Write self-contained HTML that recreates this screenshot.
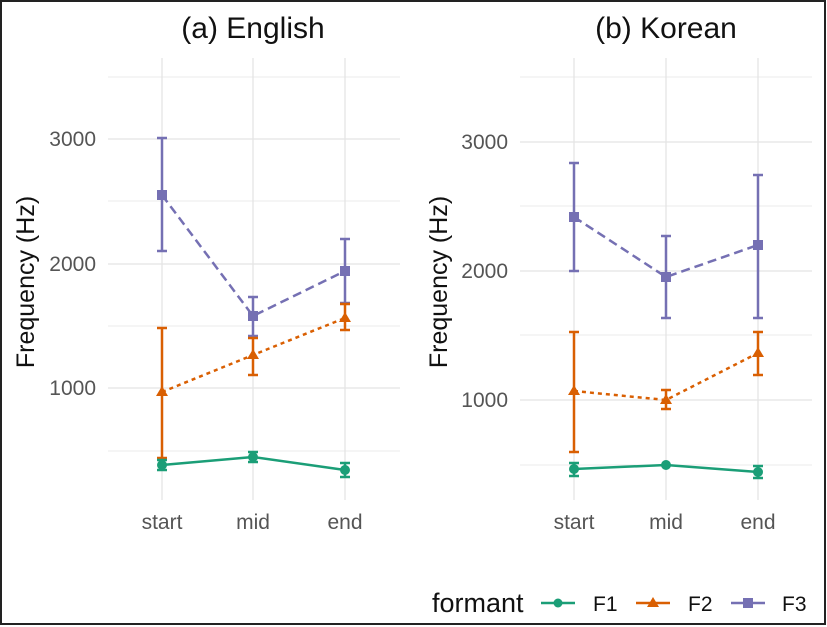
<!DOCTYPE html><html><head><style>body{margin:0;background:#fff}svg{display:block;font-family:"Liberation Sans",sans-serif}</style></head><body>
<svg width="827" height="627" viewBox="0 0 827 627">
<rect x="1" y="1" width="824" height="623" fill="#fff" stroke="#222" stroke-width="2"/>
<g stroke="#ebebeb" stroke-width="1">
<line x1="108" x2="400" y1="77" y2="77"/><line x1="108" x2="400" y1="201" y2="201"/><line x1="108" x2="400" y1="326" y2="326"/><line x1="108" x2="400" y1="451" y2="451"/>
<line x1="520" x2="812" y1="77" y2="77"/><line x1="520" x2="812" y1="206" y2="206"/><line x1="520" x2="812" y1="335" y2="335"/><line x1="520" x2="812" y1="465" y2="465"/>
</g>
<g stroke="#e4e4e4" stroke-width="1.3">
<line x1="108" x2="400" y1="139" y2="139"/><line x1="108" x2="400" y1="264" y2="264"/><line x1="108" x2="400" y1="388" y2="388"/>
<line x1="162" x2="162" y1="58" y2="500"/><line x1="253" x2="253" y1="58" y2="500"/><line x1="345" x2="345" y1="58" y2="500"/>
<line x1="520" x2="812" y1="142" y2="142"/><line x1="520" x2="812" y1="271" y2="271"/><line x1="520" x2="812" y1="400" y2="400"/>
<line x1="574" x2="574" y1="58" y2="500"/><line x1="666" x2="666" y1="58" y2="500"/><line x1="758" x2="758" y1="58" y2="500"/>
</g>
<g font-size="30" fill="#111" text-anchor="middle"><text x="253" y="38">(a) English</text><text x="666" y="38">(b) Korean</text></g>
<g font-size="21" fill="#555" text-anchor="end">
<text x="96" y="146">3000</text><text x="96" y="271">2000</text><text x="96" y="395">1000</text>
<text x="508" y="149">3000</text><text x="508" y="278">2000</text><text x="508" y="407">1000</text></g>
<g font-size="21" fill="#555" text-anchor="middle">
<text x="162" y="529">start</text><text x="253" y="529">mid</text><text x="345" y="529">end</text>
<text x="574" y="529">start</text><text x="666" y="529">mid</text><text x="758" y="529">end</text></g>
<g font-size="25" fill="#111" text-anchor="middle">
<text transform="translate(34,282) rotate(-90)">Frequency (Hz)</text>
<text transform="translate(447,282) rotate(-90)">Frequency (Hz)</text></g>
<g fill="none" stroke-width="2.5">
<polyline points="162,195 253,316 345,271" stroke="#7570b3" stroke-dasharray="9,5"/>
<polyline points="162,392 253,355 345,318" stroke="#d95f02" stroke-dasharray="4,4"/>
<polyline points="162,465 253,457 345,470" stroke="#1b9e77"/>
<polyline points="574,217 666,277 758,245" stroke="#7570b3" stroke-dasharray="9,5"/>
<polyline points="574,391 666,400 758,353" stroke="#d95f02" stroke-dasharray="4,4"/>
<polyline points="574,469 666,465 758,472" stroke="#1b9e77"/>
</g>
<g stroke-width="2.5" fill="none">
<path stroke="#7570b3" d="M162,138V251M157,138h10M157,251h10 M253,297V336M248,297h10M248,336h10 M345,239V303M340,239h10M340,303h10 M574,163V271M569,163h10M569,271h10 M666,236V318M661,236h10M661,318h10 M758,175V318M753,175h10M753,318h10"/>
<path stroke="#d95f02" d="M162,328V458M157,328h10M157,458h10 M253,338V375M248,338h10M248,375h10 M345,304V330M340,304h10M340,330h10 M574,332V452M569,332h10M569,452h10 M666,390V409M661,390h10M661,409h10 M758,332V375M753,332h10M753,375h10"/>
<path stroke="#1b9e77" d="M162,460V470M157,460h10M157,470h10 M253,452V462M248,452h10M248,462h10 M345,463V477M340,463h10M340,477h10 M574,463V476M569,463h10M569,476h10 M666,462V468 M758,466V478M753,466h10M753,478h10"/>
</g>
<g fill="#7570b3"><rect x="157" y="190" width="10" height="10"/><rect x="248" y="311" width="10" height="10"/><rect x="340" y="266" width="10" height="10"/><rect x="569" y="212" width="10" height="10"/><rect x="661" y="272" width="10" height="10"/><rect x="753" y="240" width="10" height="10"/></g>
<g fill="#d95f02"><path d="M162,386l6,10h-12z M253,349l6,10h-12z M345,312l6,10h-12z M574,385l6,10h-12z M666,394l6,10h-12z M758,347l6,10h-12z"/></g>
<g fill="#1b9e77"><circle cx="162" cy="465" r="5"/><circle cx="253" cy="457" r="5"/><circle cx="345" cy="470" r="5"/><circle cx="574" cy="469" r="5"/><circle cx="666" cy="465" r="5"/><circle cx="758" cy="472" r="5"/></g>
<text x="432" y="612" font-size="27" fill="#111">formant</text>
<g stroke-width="2.5"><line x1="541" x2="575" y1="603" y2="603" stroke="#1b9e77"/><line x1="636" x2="670" y1="603" y2="603" stroke="#d95f02"/><line x1="731" x2="765" y1="603" y2="603" stroke="#7570b3"/></g>
<circle cx="558" cy="603" r="4.5" fill="#1b9e77"/><path d="M653,597l6,10h-12z" fill="#d95f02"/><rect x="743" y="598" width="10" height="10" fill="#7570b3"/>
<g font-size="21" fill="#111"><text x="593" y="611">F1</text><text x="688" y="611">F2</text><text x="782" y="611">F3</text></g>
</svg></body></html>
